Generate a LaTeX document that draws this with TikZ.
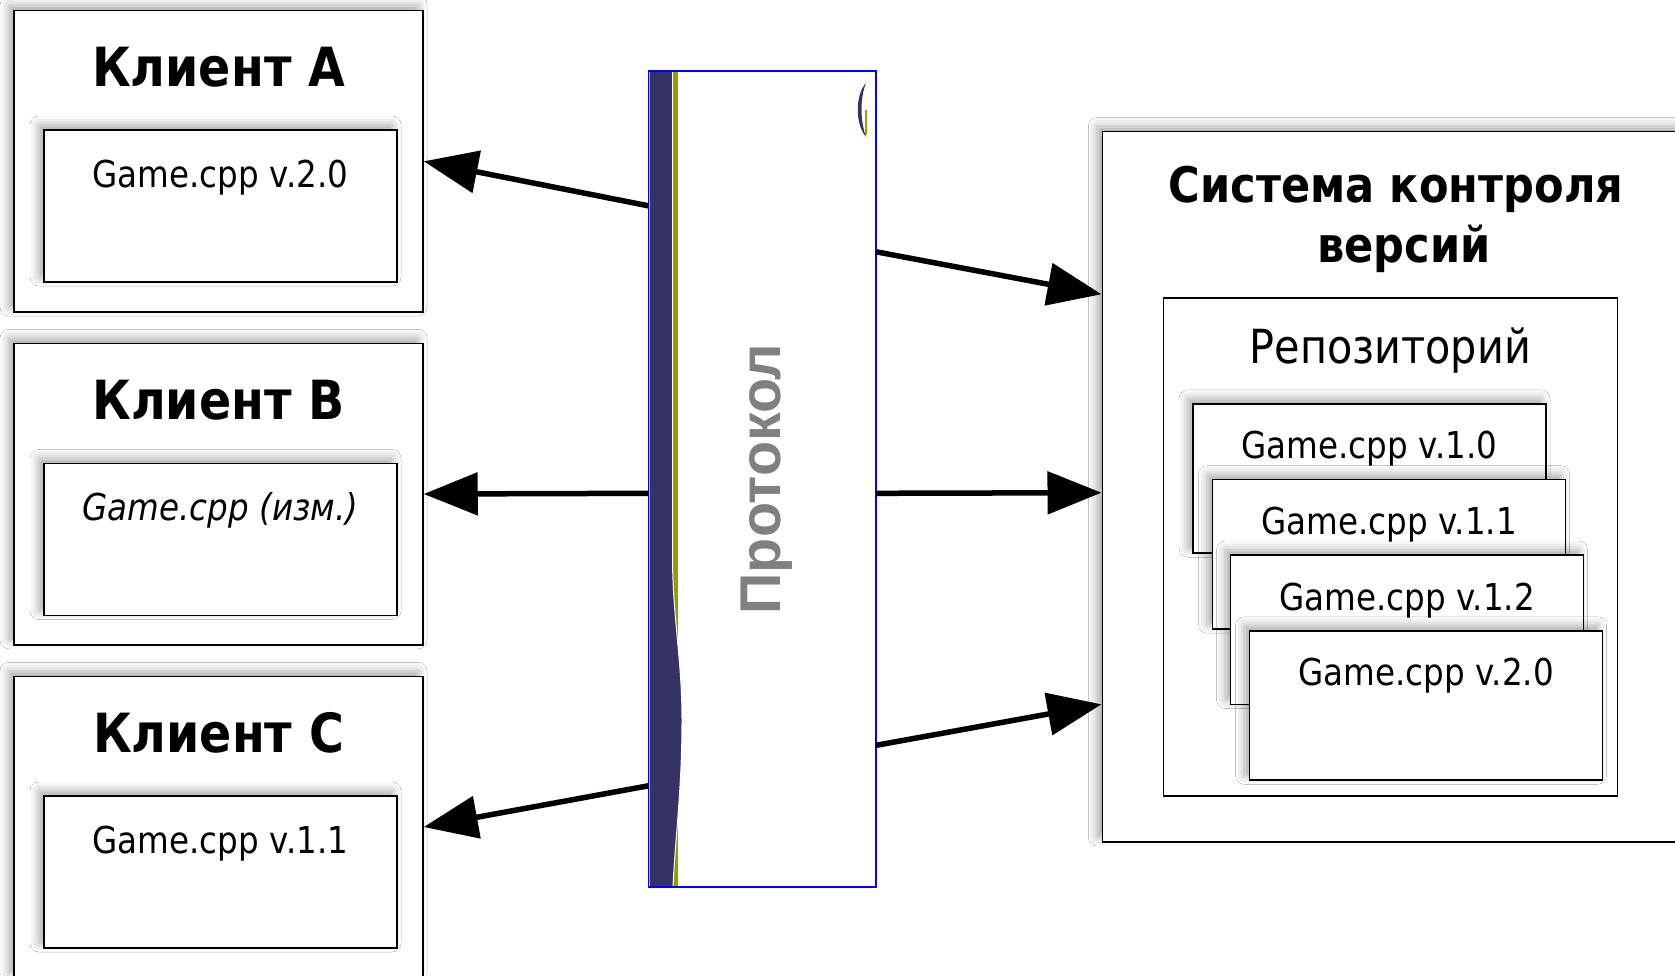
\documentclass[tikz,border=0pt]{standalone}
\usepackage{fontspec}
\setmainfont[FakeStretch=0.88]{DejaVu Sans}
\newfontfamily\protofont{Liberation Sans}
\usetikzlibrary{arrows.meta,calc,shadows.blur}
\definecolor{navy}{HTML}{333366}
\definecolor{olive}{HTML}{999900}
\definecolor{protogray}{HTML}{808080}
\begin{document}
\begin{tikzpicture}[x=1pt,y=-1pt,
  shad/.style={blur shadow={shadow xshift=-5pt,shadow yshift=5pt,shadow blur radius=9pt,shadow opacity=35}},
  outer/.style={rectangle,draw=black,line width=1.5pt,fill=white,inner sep=0pt,minimum width=409pt,minimum height=301.5pt,shad},
  inner/.style={rectangle,draw=black,line width=1.8pt,fill=white,inner sep=0pt,minimum width=353pt,minimum height=152pt,shad},
  filebox/.style={rectangle,draw=black,line width=1.6pt,fill=white,inner sep=0pt,minimum width=353pt,minimum height=149.5pt,shad},
  ttl/.style={anchor=base,inner sep=0pt,font=\bfseries\fontsize{54}{60}\selectfont},
  ftxt/.style={anchor=base,inner sep=0pt,font=\fontsize{37}{40}\selectfont},
  arr/.style={line width=5.5pt,-{Triangle[length=54pt,width=42pt]}}
]
\useasboundingbox[fill=white] (0,0) rectangle (1675,975);

% Clients
\node[outer] (cA) at (218.5,161.3) {};
\node[ttl] (tA) at ($(cA.north)+(0,77)$) {Клиент А};
\node[inner] (iA) at (220.5,206) {};
\node[ftxt] (gA) at ($(iA.north)+(0,58)$) {Game.cpp v.2.0};

\node[outer] (cB) at (218.5,494) {};
\node[ttl] (tB) at ($(cB.north)+(0,77)$) {Клиент B};
\node[inner] (iB) at (220.5,539.5) {};
\node[ftxt] (gB) at ($(iB.north)+(0,58)$) {\itshape Game.cpp (изм.)};

\node[outer] (cC) at (218.5,827) {};
\node[ttl] (tC) at ($(cC.north)+(0,77)$) {Клиент С};
\node[inner] (iC) at (220.5,872) {};
\node[ftxt] (gC) at ($(iC.north)+(0,58)$) {Game.cpp v.1.1};

% VCS
\node[rectangle,draw=black,line width=1.5pt,fill=white,inner sep=0pt,minimum width=595.5pt,minimum height=710.5pt,shad] (vcs) at (1400,486.7) {};
\node[anchor=base,inner sep=0pt,font=\bfseries\fontsize{49}{59}\selectfont] (tV) at ($(vcs.north)+(-4,71.6)$) {Система контроля};
\node[anchor=base,inner sep=0pt,font=\bfseries\fontsize{49}{59}\selectfont] (tV2) at ($(tV.base)+(8,60)$) {версий};
\node[rectangle,draw=black,line width=1.5pt,fill=white,inner sep=0pt,minimum width=454pt,minimum height=498pt] (repo) at (1390.4,547) {};
\node[anchor=base,inner sep=0pt,font=\fontsize{47}{50}\selectfont] (tR) at ($(repo.north)+(0,66)$) {Репозиторий};

\node[filebox] (f10) at (1369.5,478.5) {};
\node[ftxt] at ($(f10.north)+(0,56)$) {Game.cpp v.1.0};
\node[filebox] (f11) at (1389,554.4) {};
\node[ftxt] at ($(f11.north)+(0,56)$) {Game.cpp v.1.1};
\node[filebox] (f12) at (1407,629.8) {};
\node[ftxt] at ($(f12.north)+(0,56)$) {Game.cpp v.1.2};
\node[filebox] (f20) at (1426,705.5) {};
\node[ftxt] at ($(f20.north)+(0,56)$) {Game.cpp v.2.0};

% Protocol
\node[rectangle,fill=white,inner sep=0pt,minimum width=227.5pt,minimum height=816pt] (proto) at (762.25,479) {};
\fill[olive] (649,71) rectangle (678,887);
\fill[navy,draw=white,line width=1pt] (649,71) -- (672.5,71) -- (672.5,560)
  .. controls (673,620) and (682,660) .. (682,720)
  .. controls (682,790) and (675,840) .. (673,887) -- (649,887) -- cycle;
\fill[navy] (866,83) .. controls (855,95) and (855,124) .. (866,137)
  .. controls (860,120) and (860,98) .. (866,83) -- cycle;
\draw[olive,line width=1.2pt] (866,110) -- (866,135);
\draw[blue,line width=1.5pt] (proto.north west) rectangle (proto.south east);
\node[rotate=90,inner sep=0pt,text=protogray,font=\protofont\bfseries\fontsize{57.5}{60}\selectfont] (tP) at (767,479) {Протокол};

% Connectors
\draw[arr] ($(proto.north west)+(0,135)$) -- (cA.east);
\draw[arr] ($(proto.north west)+(0,422.5)$) -- (cB.east);
\draw[arr] ($(proto.north west)+(0,715)$) -- (cC.east);
\draw[arr] ($(proto.north east)+(0,181)$) -- ($(vcs.north west)+(0,163.6)$);
\draw[arr] ($(proto.north east)+(0,422.5)$) -- ($(vcs.north west)+(0,362)$);
\draw[arr] ($(proto.north east)+(0,674.5)$) -- ($(vcs.north west)+(0,573.6)$);
\end{tikzpicture}
\end{document}
